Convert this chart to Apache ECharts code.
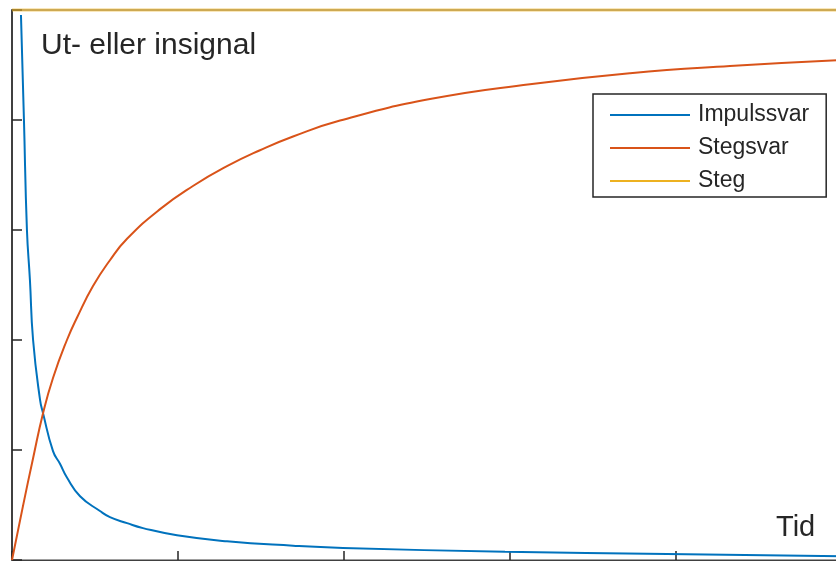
<!DOCTYPE html>
<html>
<head>
<meta charset="utf-8">
<script src="https://cdn.jsdelivr.net/npm/echarts@6/dist/echarts.min.js"></script>
<style>
  html, body { margin: 0; padding: 0; overflow: hidden; background: #fff; }
  #chart { width: 842px; height: 562px; }
</style>
</head>
<body>
<div id="chart"></div>
<script>
// Time samples and responses
const impulseTime   = [0.054, 0.072, 0.090, 0.108, 0.127, 0.169, 0.187, 0.247, 0.289, 0.331, 0.41, 0.53, 0.59, 0.693, 0.789, 0.994, 1.295, 1.693, 1.994, 2.97, 3.946, 5.0];
const impulseValues = [0.991, 0.8, 0.6, 0.509, 0.4, 0.291, 0.267, 0.198, 0.175, 0.150, 0.116, 0.089, 0.078, 0.067, 0.058, 0.045, 0.034, 0.026, 0.022, 0.015, 0.011, 0.007];

const stepRespTime   = [0, 0.066, 0.127, 0.187, 0.247, 0.331, 0.392, 0.488, 0.590, 0.693, 0.892, 1.09, 1.295, 1.494, 1.693, 1.976, 2.518, 3.12, 3.723, 4.325, 5.0];
const stepRespValues = [0, 0.098, 0.185, 0.267, 0.331, 0.4, 0.441, 0.498, 0.545, 0.584, 0.638, 0.680, 0.716, 0.745, 0.770, 0.799, 0.838, 0.865, 0.885, 0.898, 0.909];

const stepTime   = [0, 5];
const stepValues = [1, 1];

const seriesNames = ['Impulssvar', 'Stegsvar', 'Steg'];
const yLabel = 'Ut- eller insignal';
const xLabel = 'Tid';

const pairs = (xs, ys) => xs.map((x, i) => [x, ys[i]]);

const font = 'Liberation Sans, Arial, Helvetica, sans-serif';
const axisColor = '#404040';

const chart = echarts.init(document.getElementById('chart'), null, { renderer: 'canvas' });
chart.setOption({
  animation: false,
  backgroundColor: '#fff',
  grid: {
    left: 12, right: 0, top: 10, bottom: 2,
    show: true, borderColor: axisColor, borderWidth: 1
  },
  title: [
    { text: yLabel, left: 41, top: 31, padding: 0, textStyle: { fontFamily: font, fontSize: 30, fontWeight: 'normal', color: '#262626' } },
    { text: xLabel, left: 776, top: 513, padding: 0, textStyle: { fontFamily: font, fontSize: 29, fontWeight: 'normal', color: '#262626' } }
  ],
  legend: {
    data: seriesNames,
    orient: 'vertical',
    left: 593, top: 94,
    padding: [8, 17, 3, 17],
    icon: 'rect',
    itemWidth: 80, itemHeight: 2, itemGap: 7,
    borderColor: '#262626', borderWidth: 1.5,
    backgroundColor: '#fff',
    textStyle: { fontFamily: font, fontSize: 23, color: '#262626', lineHeight: 26, padding: [0, 0, 0, 3] }
  },
  xAxis: {
    type: 'value', min: 0, max: 5, interval: 1,
    axisLine: { show: true, onZero: false, lineStyle: { color: axisColor, width: 1 } },
    axisTick: { show: true, inside: true, length: 9, lineStyle: { color: '#262626', width: 1.5 } },
    axisLabel: { show: false },
    splitLine: { show: false }
  },
  yAxis: {
    type: 'value', min: 0, max: 1, interval: 0.2,
    axisLine: { show: true, onZero: false, lineStyle: { color: axisColor, width: 2 } },
    axisTick: { show: true, inside: true, length: 10, lineStyle: { color: '#262626', width: 1.5 } },
    axisLabel: { show: false },
    splitLine: { show: false }
  },
  series: [
    {
      name: seriesNames[0], type: 'line', symbol: 'none', clip: false,
      smooth: 0.5,
      data: pairs(impulseTime, impulseValues),
      lineStyle: { color: '#0072BD', width: 2 }, itemStyle: { color: '#0072BD' }
    },
    {
      name: seriesNames[1], type: 'line', symbol: 'none', clip: false,
      smooth: 0.5,
      data: pairs(stepRespTime, stepRespValues),
      lineStyle: { color: '#D95319', width: 2 }, itemStyle: { color: '#D95319' }
    },
    {
      name: seriesNames[2], type: 'line', symbol: 'none', clip: false,
      data: pairs(stepTime, stepValues),
      lineStyle: { color: '#EDB120', width: 3, opacity: 0.6 }, itemStyle: { color: '#EDB120' }
    }
  ]
});
</script>
</body>
</html>
